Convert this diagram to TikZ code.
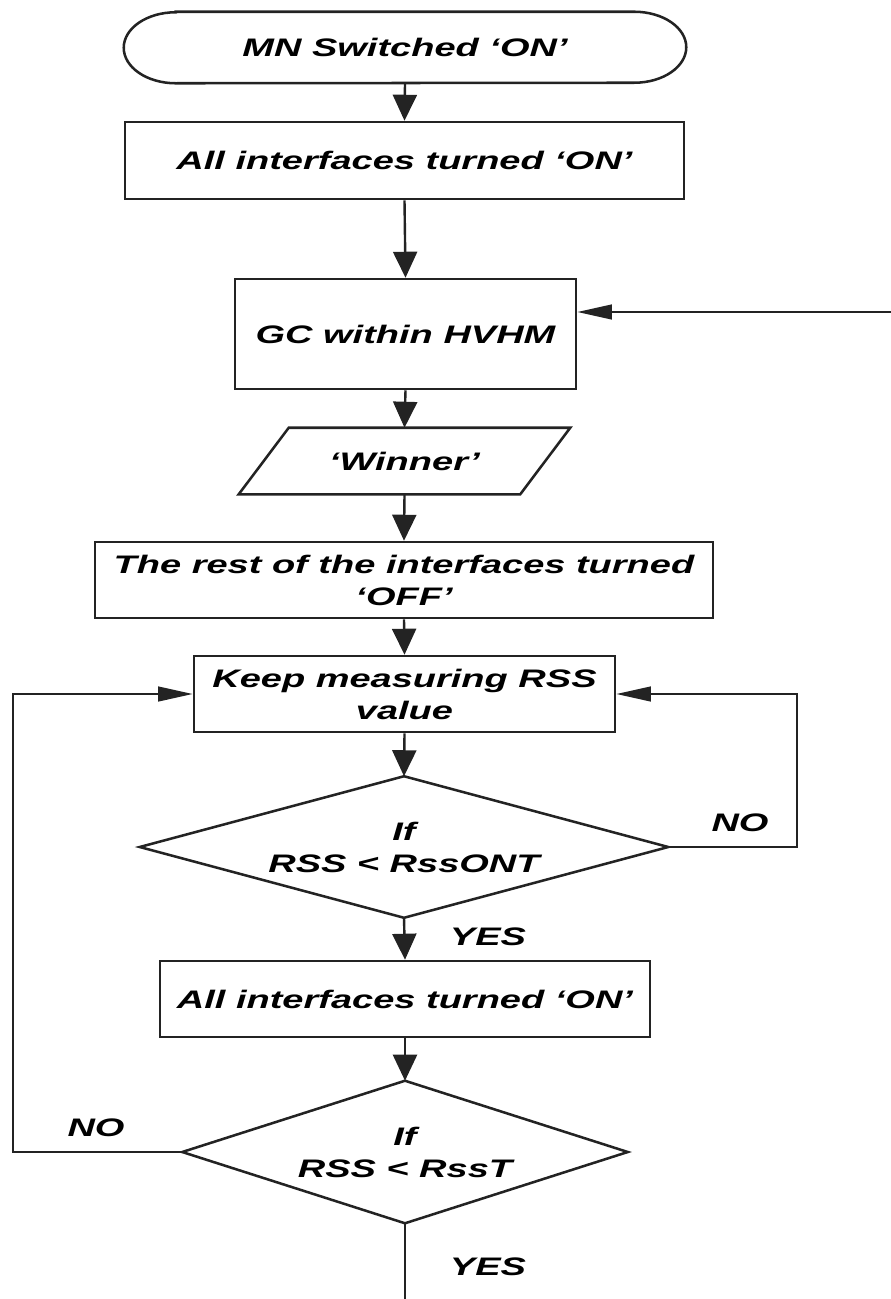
\documentclass[tikz,border=0pt]{standalone}
\usepackage{fontspec}
\setmainfont{Liberation Sans}[FakeStretch=1.5]
\usetikzlibrary{arrows.meta}
\definecolor{ink}{RGB}{35,35,35}
\begin{document}
\begin{tikzpicture}[x=0.75pt,y=-0.75pt,
  lbl/.style={font=\fontsize{19}{24}\selectfont\bfseries\itshape, inner sep=0pt, align=center},
  sz/.style 2 args={minimum width=#1*0.75pt, minimum height=#2*0.75pt},
  box/.style={lbl, draw=ink, line width=1.9pt},
  ghost/.style={lbl, draw=none},
  shapeline/.style={draw=ink, line width=1.9pt, line join=miter},
  conn/.style={draw=ink, line width=1.8pt},
  varr/.style={conn, -{Triangle[length=19.5pt,width=18pt]}},
  harr/.style={conn, -{Triangle[length=26pt,width=11pt]}}]

\useasboundingbox (0,0) rectangle (891,1299);

% process steps
\node[ghost, sz={562}{71}] (start) at (405,47.5) {MN Switched ‘ON’};
\node[box, sz={559}{77}] (on1) at (404.5,160.5) {All interfaces turned ‘ON’};
\node[box, sz={341}{110}] (gc) at (405.5,334) {GC within HVHM};
\node[ghost, sz={331}{66}] (winner) at (404.5,461) {‘Winner’};
\node[box, sz={618}{76}] (rest) at (404,580) {The rest of the interfaces turned\\‘OFF’};
\node[box, sz={421}{76}] (keep) at (404.5,694) {Keep measuring RSS\\value};
\node[ghost, sz={528}{141}] (d1) at (404,847) {If\\RSS < RssONT};
\node[box, sz={490}{76}] (on2) at (405,999) {All interfaces turned ‘ON’};
\node[ghost, sz={445}{142}] (d2) at (405,1152) {If\\RSS < RssT};

% outlines of the terminator, the data box and the decisions
\draw[shapeline] ([xshift=39pt]start.north west) -- ([xshift=-39pt]start.north east)
  arc[start angle=90, end angle=-90, x radius=39pt, y radius=26.625pt]
  -- ([xshift=39pt]start.south west)
  arc[start angle=270, end angle=90, x radius=39pt, y radius=26.625pt] -- cycle;
\draw[shapeline] ([xshift=37.5pt]winner.north west) -- (winner.north east)
  -- ([xshift=-37.5pt]winner.south east) -- (winner.south west) -- cycle;
\draw[shapeline] (d1.north) -- (d1.east) -- (d1.south) -- (d1.west) -- cycle;
\draw[shapeline] (d2.north) -- (d2.east) -- (d2.south) -- (d2.west) -- cycle;

% branch labels
\node[lbl] (no1) at (740,823) {NO};
\node[lbl] (yes1) at (488,937) {YES};
\node[lbl] (no2) at (96,1128) {NO};
\node[lbl] (yes2) at (488,1267) {YES};

% helper points for the loops and the open ends
\coordinate (entry) at (891,312);
\coordinate (exit) at (405,1299);
\coordinate (rx) at (797,0);
\coordinate (lx) at (13,0);

% main flow
\draw[varr] (start.south) -- (on1.north);
\draw[varr] (on1.south) -- (gc.north);
\draw[varr] (gc.south) -- (winner.north);
\draw[varr] (winner.south) -- (rest.north);
\draw[varr] (rest.south) -- (keep.north);
\draw[varr] (keep.south) -- (d1.north);
\draw[varr] (d1.south) -- (on2.north);
\draw[varr] (on2.south) -- (d2.north);
\draw[conn] (d2.south) -- (exit);

% incoming arrow and loops
\draw[harr] (entry) -- (entry -| gc.east);
\draw[harr] (d1.east) -- (d1.east -| rx) -- (keep.east -| rx) -- (keep.east);
\draw[harr] (d2.west) -- (d2.west -| lx) -- (keep.west -| lx) -- (keep.west);
\end{tikzpicture}
\end{document}
